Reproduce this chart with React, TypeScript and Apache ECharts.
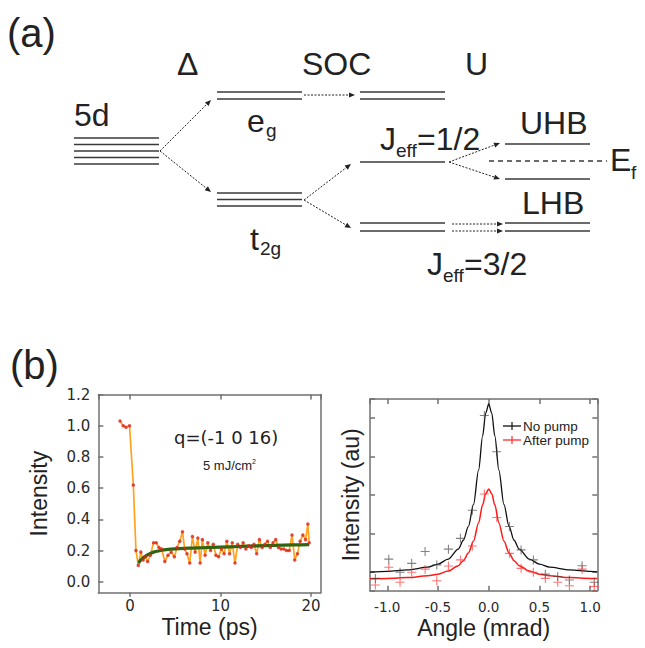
import React, { useEffect, useRef } from "react";
import * as echarts from "echarts";

// ---- Panel (b) left: time trace ----
const timePs = [-1.1, -0.75, -0.44, -0.05, 0.37, 0.66, 0.92, 1.2, 1.45, 1.7, 1.95, 2.25, 2.6, 2.9, 3.2, 3.5, 3.85, 4.2, 4.55, 4.9, 5.2, 5.5, 5.8, 6.05, 6.3, 6.6, 6.9, 7.2, 7.5, 7.75, 8.0, 8.3, 8.6, 8.9, 9.2, 9.5, 9.8, 10.1, 10.4, 10.7, 11.0, 11.3, 11.6, 11.9, 12.2, 12.5, 12.8, 13.1, 13.4, 13.7, 14.0, 14.3, 14.6, 14.9, 15.2, 15.5, 15.8, 16.1, 16.4, 16.7, 17.0, 17.3, 17.6, 17.9, 18.2, 18.5, 18.8, 19.1, 19.4, 19.65, 19.8];
const intensity = [1.03, 1.0, 0.99, 1.0, 0.62, 0.2, 0.105, 0.19, 0.14, 0.16, 0.13, 0.17, 0.25, 0.25, 0.22, 0.21, 0.13, 0.17, 0.19, 0.16, 0.22, 0.26, 0.32, 0.21, 0.18, 0.12, 0.29, 0.19, 0.28, 0.12, 0.27, 0.17, 0.25, 0.2, 0.24, 0.17, 0.16, 0.21, 0.18, 0.26, 0.18, 0.25, 0.12, 0.24, 0.22, 0.25, 0.21, 0.23, 0.22, 0.24, 0.18, 0.27, 0.22, 0.24, 0.26, 0.22, 0.25, 0.27, 0.22, 0.21, 0.21, 0.2, 0.2, 0.3, 0.14, 0.18, 0.26, 0.3, 0.27, 0.37, 0.25];
const fitTime = [0.95, 1.2, 1.5, 1.8, 2.2, 2.6, 3.0, 3.5, 4.0, 5.0, 6.0, 7.0, 8.0, 10.0, 12.0, 14.0, 16.0, 18.0, 19.8];
const fitIntensity = [0.12, 0.14, 0.155, 0.168, 0.18, 0.19, 0.196, 0.202, 0.206, 0.211, 0.214, 0.216, 0.218, 0.222, 0.226, 0.23, 0.233, 0.236, 0.238];

// ---- Panel (b) right: rocking curves ----
const angleMrad = [-1.117, -0.985, -0.874, -0.759, -0.627, -0.512, -0.397, -0.279, -0.161, -0.043, 0.079, 0.204, 0.319, 0.44, 0.558, 0.68, 0.795, 0.92, 1.04];
const noPump = [-0.16, 0.34, 0.0, 0.23, 0.54, 0.19, 0.6, 0.88, 1.61, 4.07, 3.13, 1.19, 0.58, 0.32, -0.05, -0.11, -0.2, 0.17, -0.26];
const afterPump = [-0.33, 0.13, -0.26, 0.0, 0.08, -0.22, 0.16, 0.32, 0.68, 2.03, 1.42, 0.49, 0.1, 0.0, -0.16, -0.26, -0.35, 0.08, -0.37];
const curveAngle = [-1.17, -1.0, -0.8, -0.6, -0.5, -0.4, -0.3, -0.25, -0.2, -0.15, -0.1, -0.06, -0.03, 0, 0.03, 0.06, 0.1, 0.15, 0.2, 0.25, 0.3, 0.4, 0.5, 0.6, 0.8, 1.0, 1.07];
const curveNoPump = [0.0, 0.02, 0.06, 0.13, 0.21, 0.34, 0.6, 0.83, 1.19, 1.76, 2.65, 3.54, 4.13, 4.37, 4.13, 3.54, 2.65, 1.76, 1.19, 0.83, 0.6, 0.34, 0.21, 0.13, 0.06, 0.02, 0.01];
const curveAfterPump = [-0.17, -0.16, -0.14, -0.09, -0.05, 0.03, 0.17, 0.3, 0.5, 0.81, 1.28, 1.75, 2.04, 2.16, 2.04, 1.75, 1.28, 0.81, 0.5, 0.3, 0.17, 0.03, -0.05, -0.09, -0.14, -0.16, -0.165];

const legendNames = ["No pump", "After pump"];

const zip = (a: number[], b: number[]) => a.map((v, i) => [v, b[i]]);

const FONT = "Liberation Sans, Arial, sans-serif";
const TICKFONT = "DejaVu Sans, Verdana, sans-serif";
const FRAME = "#707070";
const INK = "#3a3a3a";
const PLUS = "path://M4.4,0H5.6V4.4H10V5.6H5.6V10H4.4V5.6H0V4.4H4.4Z";

function txt(text: string, x: number, y: number, size: number, extra: any = {}) {
  return {
    type: "text",
    x,
    y,
    silent: true,
    style: {
      text,
      fontSize: size,
      fontFamily: FONT,
      fill: "#222",
      align: "left",
      verticalAlign: "middle",
      textAlign: "left",
      textVerticalAlign: "middle",
      ...extra,
    },
  };
}

function hline(x1: number, x2: number, y: number, dash?: number[]) {
  return {
    type: "line",
    silent: true,
    shape: { x1, y1: y, x2, y2: y },
    style: { stroke: INK, lineWidth: 1.4, lineDash: dash },
  };
}

function arrow(x1: number, y1: number, x2: number, y2: number) {
  const dx = x2 - x1;
  const dy = y2 - y1;
  const len = Math.sqrt(dx * dx + dy * dy);
  const ux = dx / len;
  const uy = dy / len;
  const hl = 6;
  const hw = 2.6;
  const bx = x2 - ux * hl;
  const by = y2 - uy * hl;
  return [
    {
      type: "line",
      silent: true,
      shape: { x1, y1, x2: bx + ux, y2: by + uy },
      style: { stroke: "#222", lineWidth: 1, lineDash: [2, 1.5] },
    },
    {
      type: "polygon",
      silent: true,
      shape: {
        points: [
          [x2, y2],
          [bx - uy * hw, by + ux * hw],
          [bx + uy * hw, by - ux * hw],
        ],
      },
      style: { fill: "#222" },
    },
  ];
}

function buildDiagram() {
  const levels: { x1: number; x2: number; ys: number[] }[] = [
    { x1: 74, x2: 159, ys: [138, 144.5, 151, 157.5, 164] },
    { x1: 217, x2: 302, ys: [92, 99] },
    { x1: 217, x2: 302, ys: [193, 199.5, 206] },
    { x1: 360, x2: 445, ys: [92, 99] },
    { x1: 360, x2: 445, ys: [162] },
    { x1: 360, x2: 445, ys: [223, 231] },
    { x1: 505, x2: 590, ys: [144] },
    { x1: 505, x2: 590, ys: [179] },
    { x1: 505, x2: 590, ys: [223, 231] },
  ];
  const els: any[] = [];
  levels.forEach((l) => l.ys.forEach((y) => els.push(hline(l.x1, l.x2, y))));
  els.push(hline(489, 607, 161, [5, 4]));
  const arrows = [
    [160, 151, 211, 100],
    [160, 151, 211, 192],
    [304, 95, 355, 95],
    [304, 200, 351, 164],
    [304, 200, 351, 228],
    [449, 162, 500, 143],
    [449, 162, 500, 179],
    [452, 224, 503, 224],
    [452, 231, 503, 231],
  ];
  arrows.forEach((a) => els.push(...arrow(a[0], a[1], a[2], a[3])));
  els.push(
    txt("(a)", 7, 33, 40),
    txt("Δ", 177, 64, 32),
    txt("SOC", 302, 64, 32),
    txt("U", 465, 64, 32),
    txt("5d", 74, 115, 32),
    txt("e", 247, 120.5, 32),
    txt("g", 266, 130, 19),
    txt("t", 250, 239, 32),
    txt("2g", 260, 248, 19),
    txt("J", 380, 138.5, 32),
    txt("eff", 396, 150, 19),
    txt("=1/2", 417, 138.5, 32),
    txt("UHB", 520, 122.5, 32),
    txt("LHB", 522, 202.5, 32),
    txt("E", 610, 160, 32),
    txt("f", 631, 172, 19),
    txt("J", 427, 264, 32),
    txt("eff", 443, 275, 19),
    txt("=3/2", 464, 264, 32),
    txt("(b)", 10, 364.5, 40)
  );
  // annotations of panel (b) left
  els.push(
    txt("q=(-1 0 16)", 174, 437, 18, { fontFamily: TICKFONT }),
    {
      type: "text",
      x: 203,
      y: 465,
      silent: true,
      style: {
        text: "5 mJ/cm{s|2}",
        fontSize: 13,
        fontFamily: FONT,
        fill: "#222",
        align: "left",
        verticalAlign: "middle",
        rich: { s: { fontSize: 7, fontFamily: FONT, fill: "#222", verticalAlign: "top", padding: [0, 0, 8, 0] } },
      },
    }
  );
  // legend of panel (b) right
  const legendColors = ["#111", "#ff2a2a"];
  legendNames.forEach((name, i) => {
    const y = 426 + i * 14;
    els.push({
      type: "line",
      silent: true,
      shape: { x1: 503, y1: y, x2: 521, y2: y },
      style: { stroke: legendColors[i], lineWidth: 1.3 },
    });
    els.push({
      type: "line",
      silent: true,
      shape: { x1: 512, y1: y - 4, x2: 512, y2: y + 4 },
      style: { stroke: legendColors[i], lineWidth: 1.2 },
    });
    els.push(txt(name, 523, y, 13.5, { lineHeight: 13 }));
  });
  return els;
}

function tickAxisBase(color = FRAME) {
  return {
    axisLine: { show: true, onZero: false, lineStyle: { color, width: 1.5 } },
    axisTick: { show: true, inside: true, length: 5, lineStyle: { color, width: 1.5 } },
    splitLine: { show: false },
  };
}

export default function App() {
  const ref = useRef<HTMLDivElement>(null);
  useEffect(() => {
    if (!ref.current) return;
    const chart = echarts.init(ref.current, null, { renderer: "svg" });
    const fmt1 = (v: number) => v.toFixed(1);
    const option: any = {
      animation: false,
      backgroundColor: "#fff",
      grid: [
        { left: 98.3, top: 394.5, width: 222.4, height: 198.2, outerBoundsMode: "none", containLabel: false },
        { left: 370, top: 399, width: 227.3, height: 191.7, outerBoundsMode: "none", containLabel: false },
      ],
      xAxis: [
        {
          gridIndex: 0,
          type: "value",
          position: "bottom",
          min: -3.5,
          max: 21.07,
          splitNumber: 3,
          ...tickAxisBase(),
          axisTick: { show: true, inside: false, length: 4, lineStyle: { color: FRAME, width: 1.5 } },
          axisLabel: { showMinLabel: false, showMaxLabel: false, fontSize: 15, fontFamily: TICKFONT, color: "#2a2a2a", margin: 6 },
          name: "Time (ps)",
          nameLocation: "middle",
          nameGap: 23,
          nameTextStyle: { fontSize: 23, fontFamily: FONT, color: "#222" },
        },
        {
          gridIndex: 0,
          type: "value",
          position: "top",
          min: -3.5,
          max: 21.07,
          splitNumber: 3,
          ...tickAxisBase(),
          axisLabel: { show: false },
        },
        {
          gridIndex: 1,
          type: "value",
          position: "bottom",
          min: -1.17,
          max: 1.07,
          splitNumber: 5,
          ...tickAxisBase(),
          axisLabel: { showMinLabel: false, showMaxLabel: false, fontSize: 13.5, fontFamily: TICKFONT, color: "#2a2a2a", margin: 9, formatter: fmt1 },
          name: "Angle (mrad)",
          nameLocation: "middle",
          nameGap: 26,
          nameTextStyle: { fontSize: 23, fontFamily: FONT, color: "#222" },
        },
        {
          gridIndex: 1,
          type: "value",
          position: "top",
          min: -1.17,
          max: 1.07,
          splitNumber: 5,
          ...tickAxisBase(),
          axisLabel: { show: false },
        },
      ],
      yAxis: [
        {
          gridIndex: 0,
          type: "value",
          position: "left",
          min: -0.07,
          max: 1.2,
          splitNumber: 6,
          ...tickAxisBase(),
          axisLabel: { showMinLabel: false, fontSize: 15, fontFamily: TICKFONT, color: "#2a2a2a", margin: 8, formatter: fmt1 },
          name: "Intensity",
          nameLocation: "middle",
          nameGap: 48,
          nameTextStyle: { fontSize: 23, fontFamily: FONT, color: "#222" },
        },
        {
          gridIndex: 0,
          type: "value",
          position: "right",
          min: -0.07,
          max: 1.2,
          ...tickAxisBase(),
          axisTick: { show: false },
          axisLabel: { show: false },
        },
        {
          gridIndex: 1,
          type: "value",
          position: "left",
          min: -0.48,
          max: 4.5,
          splitNumber: 5,
          ...tickAxisBase(),
          axisLabel: { show: false },
          name: "Intensity (au)",
          nameLocation: "middle",
          nameGap: 8,
          nameTextStyle: { fontSize: 23, fontFamily: FONT, color: "#222" },
        },
        {
          gridIndex: 1,
          type: "value",
          position: "right",
          min: -0.48,
          max: 4.5,
          splitNumber: 5,
          ...tickAxisBase(),
          axisLabel: { show: false },
        },
      ],
      series: [
        {
          type: "line",
          xAxisIndex: 0,
          yAxisIndex: 0,
          data: zip(timePs, intensity),
          symbol: "none",
          lineStyle: { color: "#ffa21f", width: 1.7 },
          z: 2,
        },
        {
          type: "line",
          xAxisIndex: 0,
          yAxisIndex: 0,
          data: zip(fitTime, fitIntensity),
          symbol: "none",
          smooth: 0.3,
          lineStyle: { color: "#2f6410", width: 3.2 },
          z: 3,
        },
        {
          type: "scatter",
          xAxisIndex: 0,
          yAxisIndex: 0,
          data: zip(timePs, intensity),
          symbol: "circle",
          symbolSize: 3.5,
          itemStyle: { color: "#d8261e" },
          z: 4,
        },
        {
          type: "line",
          xAxisIndex: 2,
          yAxisIndex: 2,
          data: zip(curveAngle, curveNoPump),
          symbol: "none",
          smooth: 0.3,
          smoothMonotone: "x",
          lineStyle: { color: "#111", width: 1.3 },
          z: 2,
        },
        {
          type: "line",
          xAxisIndex: 2,
          yAxisIndex: 2,
          data: zip(curveAngle, curveAfterPump),
          symbol: "none",
          smooth: 0.3,
          smoothMonotone: "x",
          lineStyle: { color: "#ff1a1a", width: 1.5 },
          z: 2,
        },
        {
          name: legendNames[0],
          type: "scatter",
          xAxisIndex: 2,
          yAxisIndex: 2,
          data: zip(angleMrad, noPump),
          symbol: PLUS,
          symbolSize: 9,
          itemStyle: { color: "rgba(60,60,60,0.8)" },
          z: 3,
        },
        {
          name: legendNames[1],
          type: "scatter",
          xAxisIndex: 2,
          yAxisIndex: 2,
          data: zip(angleMrad, afterPump),
          symbol: PLUS,
          symbolSize: 9,
          itemStyle: { color: "rgba(255,50,50,0.85)" },
          z: 3,
        },
      ],
      graphic: { elements: buildDiagram() },
    };
    chart.setOption(option);
    return () => chart.dispose();
  }, []);
  return (
    <div
      ref={ref}
      style={{ position: "absolute", left: 0, top: 0, width: 645, height: 648, background: "#fff" }}
    />
  );
}
